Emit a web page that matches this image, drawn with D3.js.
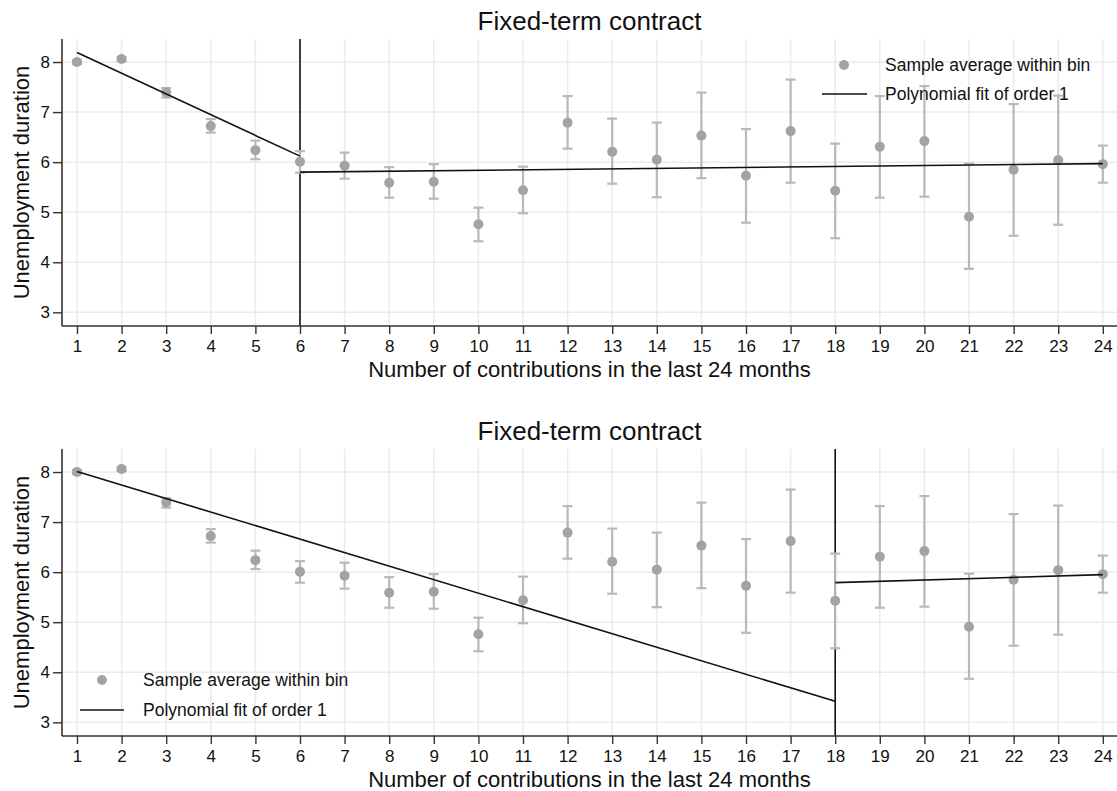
<!DOCTYPE html>
<html>
<head>
<meta charset="utf-8">
<script src="https://cdn.jsdelivr.net/npm/d3@7"></script>
<style>
  html, body { margin: 0; padding: 0; background: #fff; }
  svg { display: block; font-family: "Liberation Sans", Arial, sans-serif; }
</style>
</head>
<body>
<svg id="chart" width="1117" height="791"></svg>
<script>
// Bins: number of contributions in the last 24 months
const bins = [1, 2, 3, 4, 5, 6, 7, 8, 9, 10, 11, 12, 13, 14, 15, 16, 17, 18, 19, 20, 21, 22, 23, 24];
// Sample average of unemployment duration within each bin
const binMeans = [8.00, 8.06, 7.39, 6.72, 6.24, 6.01, 5.93, 5.59, 5.61, 4.76, 5.44, 6.79,
                  6.21, 6.05, 6.53, 5.73, 6.62, 5.43, 6.31, 6.42, 4.91, 5.85, 6.04, 5.96];
// Confidence interval bounds
const ciLower = [7.96, 8.02, 7.29, 6.59, 6.06, 5.79, 5.67, 5.29, 5.27, 4.42, 4.98, 6.27,
                 5.57, 5.30, 5.68, 4.79, 5.59, 4.48, 5.29, 5.31, 3.87, 4.53, 4.75, 5.59];
const ciUpper = [8.04, 8.10, 7.48, 6.86, 6.43, 6.22, 6.19, 5.90, 5.96, 5.09, 5.91, 7.32,
                 6.87, 6.79, 7.39, 6.66, 7.65, 6.37, 7.32, 7.52, 5.97, 7.16, 7.33, 6.33];

const xTicks = bins;
const yTicks = [3, 4, 5, 6, 7, 8];

// Cutoffs and linear fits on each side: [x0, y0, x1, y1]
const cutoffs = [6, 18];
const fitsTop = [[1, 8.19, 6, 6.12], [6, 5.80, 24, 5.97]];
const fitsBottom = [[1, 8.01, 18, 3.42], [18, 5.79, 24, 5.95]];

const titleText = "Fixed-term contract";
const xLabel = "Number of contributions in the last 24 months";
const yLabel = "Unemployment duration";
const legendLabels = ["Sample average within bin", "Polynomial fit of order 1"];

const svg = d3.select("#chart");
const plot = { left: 62, right: 1117, top: 39, bottom: 326 };

const x = d3.scaleLinear().domain([0.664, 24.318]).range([plot.left, plot.right]);
const y = d3.scaleLinear().domain([2.727, 8.46]).range([plot.bottom, plot.top]);

const rows = bins.map((b, i) => ({ b, m: binMeans[i], lo: ciLower[i], hi: ciUpper[i] }));

const panels = [
  { dy: 0, cutoff: cutoffs[0], fits: fitsTop, legend: { mx: 844, lx0: 822, lx1: 867, tx: 885, y0: 65, y1: 94 } },
  { dy: 410, cutoff: cutoffs[1], fits: fitsBottom, legend: { mx: 102, lx0: 80, lx1: 124, tx: 143, y0: 270, y1: 300 } }
];

panels.forEach(p => {
  const g = svg.append("g").attr("transform", `translate(0,${p.dy})`);

  // Title
  g.append("text")
    .attr("x", (plot.left + plot.right) / 2).attr("y", 30)
    .attr("text-anchor", "middle").attr("font-size", 26).attr("fill", "#111")
    .text(titleText);

  // Grid lines
  g.append("g").selectAll("line").data(xTicks).join("line")
    .attr("x1", d => x(d)).attr("x2", d => x(d))
    .attr("y1", plot.top).attr("y2", plot.bottom)
    .attr("stroke", "#ebebeb").attr("stroke-width", 1.5);
  g.append("g").selectAll("line").data(yTicks).join("line")
    .attr("x1", plot.left).attr("x2", plot.right)
    .attr("y1", d => y(d)).attr("y2", d => y(d))
    .attr("stroke", "#ebebeb").attr("stroke-width", 1.5);

  // Cutoff line
  g.append("line")
    .attr("x1", x(p.cutoff)).attr("x2", x(p.cutoff))
    .attr("y1", plot.top).attr("y2", plot.bottom)
    .attr("stroke", "#111").attr("stroke-width", 1.6);

  // Error bars
  const eb = g.append("g").attr("stroke", "#b9b9b9").attr("stroke-width", 2.2).attr("fill", "none");
  eb.append("g").selectAll("line").data(rows).join("line")
    .attr("x1", d => x(d.b)).attr("x2", d => x(d.b))
    .attr("y1", d => y(d.lo)).attr("y2", d => y(d.hi));
  eb.append("g").selectAll("line").data(rows).join("line")
    .attr("x1", d => x(d.b) - 5).attr("x2", d => x(d.b) + 5)
    .attr("y1", d => y(d.lo)).attr("y2", d => y(d.lo));
  eb.append("g").selectAll("line").data(rows).join("line")
    .attr("x1", d => x(d.b) - 5).attr("x2", d => x(d.b) + 5)
    .attr("y1", d => y(d.hi)).attr("y2", d => y(d.hi));

  // Bin averages
  g.append("g").selectAll("circle").data(rows).join("circle")
    .attr("cx", d => x(d.b)).attr("cy", d => y(d.m)).attr("r", 5)
    .attr("fill", "#a3a3a3");

  // Fitted lines
  g.append("g").selectAll("line").data(p.fits).join("line")
    .attr("x1", d => x(d[0])).attr("y1", d => y(d[1]))
    .attr("x2", d => x(d[2])).attr("y2", d => y(d[3]))
    .attr("stroke", "#111").attr("stroke-width", 1.6);

  // Axes
  const xAxis = d3.axisBottom(x).tickValues(xTicks).tickFormat(d3.format("d"))
    .tickSize(8).tickPadding(6).tickSizeOuter(0);
  const yAxis = d3.axisLeft(y).tickValues(yTicks).tickFormat(d3.format("d"))
    .tickSize(9).tickPadding(3).tickSizeOuter(0);
  const gx = g.append("g").attr("transform", `translate(0,${plot.bottom})`).call(xAxis);
  const gy = g.append("g").attr("transform", `translate(${plot.left},0)`).call(yAxis);
  [gx, gy].forEach(a => {
    a.select(".domain").attr("stroke", "#333").attr("stroke-width", 1.6);
    a.selectAll(".tick line").attr("stroke", "#333").attr("stroke-width", 1.4);
    a.selectAll(".tick text").attr("font-size", 17).attr("fill", "#111")
      .attr("font-family", "'Liberation Sans', Arial, sans-serif");
  });
  gx.select(".domain").attr("d", `M${plot.left},0H${plot.right}`);
  gy.select(".domain").attr("d", `M0,${plot.top}V${plot.bottom}`);

  // Axis titles
  g.append("text")
    .attr("x", (plot.left + plot.right) / 2).attr("y", 377)
    .attr("text-anchor", "middle").attr("font-size", 22).attr("fill", "#111")
    .text(xLabel);
  g.append("text")
    .attr("transform", `translate(29,${(plot.top + plot.bottom) / 2}) rotate(-90)`)
    .attr("text-anchor", "middle").attr("font-size", 22).attr("fill", "#111")
    .text(yLabel);

  // Legend
  const L = p.legend;
  const lg = g.append("g");
  lg.append("circle").attr("cx", L.mx).attr("cy", L.y0).attr("r", 5).attr("fill", "#a3a3a3");
  lg.append("line").attr("x1", L.lx0).attr("x2", L.lx1).attr("y1", L.y1).attr("y2", L.y1)
    .attr("stroke", "#111").attr("stroke-width", 1.6);
  lg.selectAll("text").data(legendLabels).join("text")
    .attr("x", L.tx).attr("y", (d, i) => (i === 0 ? L.y0 : L.y1))
    .attr("dy", "0.35em").attr("font-size", 17.5).attr("fill", "#111")
    .text(d => d);
});
</script>
</body>
</html>
